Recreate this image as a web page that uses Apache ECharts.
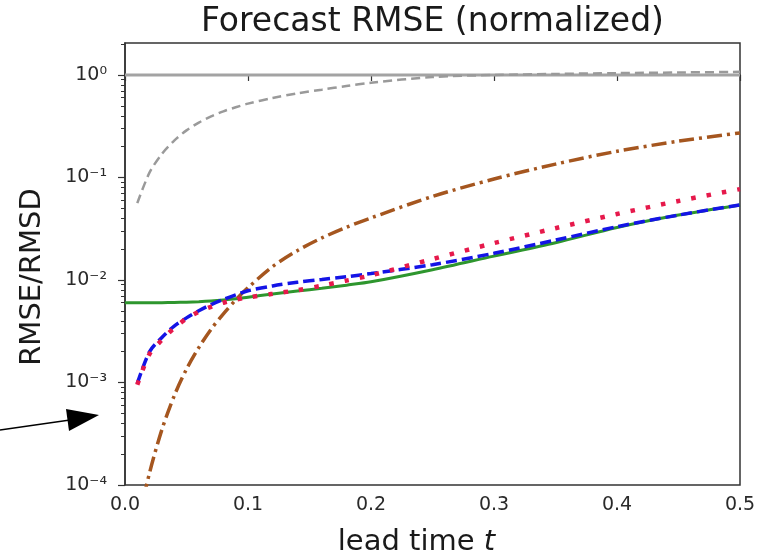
<!DOCTYPE html>
<html>
<head>
<meta charset="utf-8">
<script src="https://cdn.jsdelivr.net/npm/echarts@6.0.0/dist/echarts.min.js"></script>
<style>
html,body{margin:0;padding:0;background:#fff;}
#chart{width:767px;height:557px;}
</style>
</head>
<body>
<div id="chart"></div>
<script>
// ---- data ----
var leadTime = [0, 0.01, 0.02, 0.03, 0.04, 0.05, 0.06, 0.07, 0.08, 0.09, 0.10, 0.12, 0.14, 0.16, 0.18, 0.20, 0.25, 0.30, 0.35, 0.40, 0.45, 0.50];
var reference = [1, 1, 1, 1, 1, 1, 1, 1, 1, 1, 1, 1, 1, 1, 1, 1, 1, 1, 1, 1, 1, 1];
var grayDashed = [null, 0.0562, 0.112, 0.170, 0.229, 0.288, 0.343, 0.394, 0.442, 0.484, 0.525, 0.596, 0.661, 0.719, 0.78, 0.839, 0.955, 1.0, 1.023, 1.042, 1.057, 1.072];
var greenSolid = [0.0060, 0.0060, 0.0060, 0.00601, 0.00603, 0.00607, 0.00614, 0.00624, 0.00638, 0.00656, 0.0068, 0.0073, 0.0078, 0.0083, 0.0089, 0.0096, 0.0126, 0.0171, 0.0231, 0.0325, 0.043, 0.054];
var brownDashDot = [null, 0.00004, 0.000132, 0.000347, 0.000741, 0.00135, 0.00219, 0.00331, 0.00468, 0.00638, 0.00841, 0.0135, 0.0193, 0.0257, 0.0327, 0.0403, 0.0653, 0.0966, 0.135, 0.180, 0.226, 0.272];
var blueDashed = [null, 0.00098, 0.0020, 0.00275, 0.00355, 0.00427, 0.00501, 0.00575, 0.00646, 0.00716, 0.00785, 0.00875, 0.0095, 0.0101, 0.01076, 0.01156, 0.0141, 0.0182, 0.0245, 0.0331, 0.043, 0.054];
var redDotted = [null, 0.00095, 0.0019, 0.0026, 0.0034, 0.0042, 0.0049, 0.00547, 0.0060, 0.00643, 0.00676, 0.00733, 0.00794, 0.0088, 0.00986, 0.0111, 0.016, 0.0229, 0.032, 0.044, 0.059, 0.077];

var xTicks = [0, 0.1, 0.2, 0.3, 0.4, 0.5];
var xTickLabels = ['0.0', '0.1', '0.2', '0.3', '0.4', '0.5'];
var yTicks = [1e-4, 1e-3, 1e-2, 1e-1, 1];
var yTickLabels = ['10\u207B\u2074', '10\u207B\u00B3', '10\u207B\u00B2', '10\u207B\u00B9', '10\u2070'];
var yMinorMultipliers = [2, 3, 4, 5, 6, 7, 8, 9];
var yMin = 1e-4, yMax = 2.05;

// ---- build ----
function pairs(vals) {
  return leadTime.map(function (t, i) { return [t, vals[i]]; });
}
var yMajorLog = yTicks.map(function (v) { return Math.log10(v); });
var yMinorLog = [];
yTicks.forEach(function (v) {
  yMinorMultipliers.forEach(function (m) {
    var lv = Math.log10(v * m);
    if (lv < Math.log10(yMax)) yMinorLog.push(lv);
  });
});

var FONT = 'DejaVu Sans';
var AX = '#333';

function lineSeries(name, vals, color, width, dash, z, extra) {
  var s = {
    type: 'line', name: name, data: pairs(vals), yAxisIndex: 0,
    smooth: 0.3,
    showSymbol: false, symbol: 'none',
    lineStyle: {color: color, width: width, type: dash || 'solid'}, z: z
  };
  if (extra) Object.keys(extra).forEach(function (k) { s.lineStyle[k] = extra[k]; });
  return s;
}

var chart = echarts.init(document.getElementById('chart'), null, {renderer: 'canvas'});
chart.setOption({
  backgroundColor: '#ffffff',
  animation: false,
  title: {
    text: 'Forecast RMSE (normalized)',
    left: 432.5,
    textAlign: 'center',
    top: 1,
    padding: [5, 0, 5, 0],
    textStyle: {fontFamily: FONT, fontSize: 33, fontWeight: 'normal', color: '#1a1a1a'}
  },
  grid: {
    left: 125, right: 27, top: 43, bottom: 72,
    outerBoundsMode: 'none',
    containLabel: false,
    show: true, borderColor: AX, borderWidth: 1.5, backgroundColor: 'transparent'
  },
  xAxis: {
    type: 'value', min: 0, max: 0.5, interval: 0.1,
    axisLine: {show: true, lineStyle: {color: AX, width: 1.5}},
    axisTick: {show: true, length: 6, lineStyle: {color: AX, width: 1.2}},
    splitLine: {show: false},
    axisLabel: {
      margin: 11, fontFamily: FONT, fontSize: 19, color: '#2a2a2a',
      formatter: function (v) {
        var i = xTicks.findIndex(function (x) { return Math.abs(x - v) < 1e-9; });
        return i >= 0 ? xTickLabels[i] : '';
      }
    },
    name: 'lead time {it|t}',
    nameLocation: 'middle',
    nameGap: 43,
    nameTextStyle: {
      fontFamily: FONT, fontSize: 29, color: '#1a1a1a', padding: [0, 32, 0, 0],
      rich: {it: {fontFamily: FONT, fontSize: 29, fontStyle: 'italic', color: '#1a1a1a'}}
    }
  },
  yAxis: [
    {
      type: 'log', logBase: 10, min: yMin, max: yMax,
      axisLine: {show: false},
      axisTick: {show: false},
      splitLine: {show: false},
      minorTick: {show: false},
      axisLabel: {
        margin: 18, fontFamily: FONT, fontSize: 19, color: '#2a2a2a',
        showMaxLabel: false,
        formatter: function (v) {
          var e = Math.log10(v);
          var r = Math.round(e);
          if (Math.abs(e - r) > 1e-6) return '';
          var i = yMajorLog.findIndex(function (x) { return Math.abs(x - r) < 1e-9; });
          return i >= 0 ? yTickLabels[i] : '';
        }
      },
      name: 'RMSE/RMSD',
      nameLocation: 'middle',
      nameGap: 78,
      nameTextStyle: {fontFamily: FONT, fontSize: 29, color: '#1a1a1a', padding: [0, 0, 0, -26]}
    },
    {
      type: 'value', min: -4, max: Math.log10(yMax), position: 'left',
      axisLine: {show: true, lineStyle: {color: AX, width: 1.5}},
      axisTick: {show: true, length: 7, customValues: yMajorLog, lineStyle: {color: AX, width: 1.2}},
      axisLabel: {show: false},
      splitLine: {show: false}
    },
    {
      type: 'value', min: -4, max: Math.log10(yMax), position: 'left',
      axisLine: {show: false},
      axisTick: {show: true, length: 4, customValues: yMinorLog, lineStyle: {color: AX, width: 1}},
      axisLabel: {show: false},
      splitLine: {show: false}
    }
  ],
  graphic: [
    {type: 'line', shape: {x1: 0, y1: 430, x2: 70, y2: 420}, style: {stroke: '#000', lineWidth: 1.3}},
    {type: 'polygon', shape: {points: [[99, 415], [66, 409], [69, 431]]}, style: {fill: '#000'}}
  ],
  series: [
    lineSeries('reference', reference, '#a3a3a3', 3, 'solid', 2),
    lineSeries('gray dashed', grayDashed, '#9a9a9a', 2.5, [9, 5], 3),
    lineSeries('green', greenSolid, '#2e962e', 3, 'solid', 4),
    lineSeries('brown', brownDashDot, '#a5561f', 3.5, [15, 5, 3, 5], 5),
    lineSeries('blue', blueDashed, '#1414e6', 3.5, [11, 5], 6),
    lineSeries('red', redDotted, '#e6194b', 4.5, [4.5, 11], 7, {cap: 'butt'})
  ]
});
</script>
</body>
</html>
